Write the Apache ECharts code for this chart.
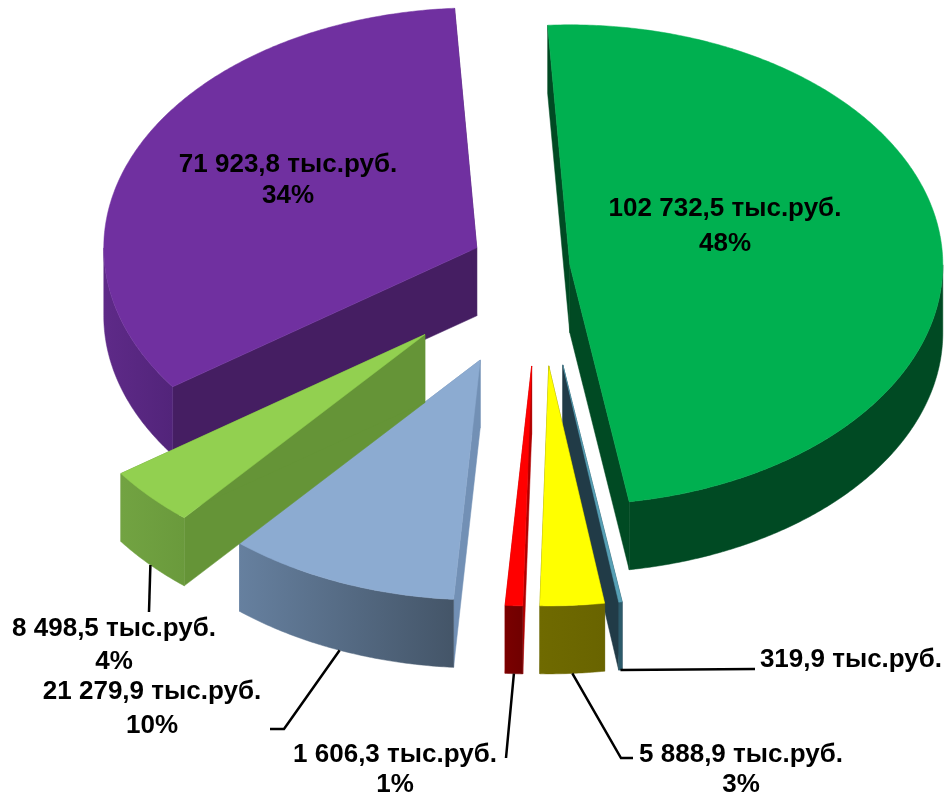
<!DOCTYPE html>
<html><head><meta charset="utf-8">
<style>html,body{margin:0;padding:0;background:#fff}#c{width:945px;height:796px}</style>
<script src="https://cdn.jsdelivr.net/npm/echarts@6/dist/echarts.min.js"></script>
</head><body><div id="c"></div>
<script>
// Data, in drawing order (back slices first)
const values = [71923.8, 102732.5, 319.9, 5888.9, 1606.3, 21279.9, 8498.5];
const valueLabels = ['71 923,8 тыс.руб.', '102 732,5 тыс.руб.', '319,9 тыс.руб.', '5 888,9 тыс.руб.', '1 606,3 тыс.руб.', '21 279,9 тыс.руб.', '8 498,5 тыс.руб.'];
const percentLabels = ['34%', '48%', '', '3%', '1%', '10%', '4%'];

// Styles and layout
const topColors = ['#7030a0', '#00b050', '#57a0b5', '#ffff00', '#ff0000', '#8cabd1', '#92d050'];
const cutColors = ['#451e62', '#004a23', '#213b47', '#5f5b00', '#b00000', '#7290b5', '#659437'];
const wallFrom = ['#5e2a88', '#004a23', '#2c5a6a', '#6f6a00', '#7a0000', '#66809f', '#72a342'];
const wallTo = ['#52247a', '#004a23', '#2c5a6a', '#696400', '#700000', '#445568', '#6a9a3c'];
const explode = [69, 31, 154, 154, 154, 156, 155];
const labelCenters = [[288, 180], [725, 226], [851, 660], [741, 770], [395, 770], [152, 709], [114, 645]];
const labelLineHeights = [31, 35, 33, 30, 30, 34, 33];
const leaderTails = [[], [], [[755, 669]], [[621, 758], [633, 758]], [[506, 758]], [[284, 729], [270, 729]], [[149, 612]]];

const baseX = 539, baseY = 267, rx = 373, ry = 240, depth = 68, firstAngle = -125.4;
const total = values.reduce((a, b) => a + b, 0);

let cum = firstAngle;
const slices = values.map((v, i) => {
  const a0 = cum, a1 = cum + v / total * 360; cum = a1;
  const mid = (a0 + a1) / 2, m = mid * Math.PI / 180;
  return { a0, a1, mid, ax: baseX + explode[i] * Math.sin(m), ay: baseY - explode[i] * ry / rx * Math.cos(m) };
});
const rim = (s, deg, dy) => {
  const t = deg * Math.PI / 180;
  return [s.ax + rx * Math.sin(t), s.ay - ry * Math.cos(t) + (dy || 0)];
};
const arc = (s, a, b, dy) => {
  const n = Math.max(2, Math.ceil(Math.abs(b - a) * 2)), pts = [];
  for (let k = 0; k <= n; k++) pts.push(rim(s, a + (b - a) * k / n, dy));
  return pts;
};
const poly = (points, fill) => ({ type: 'polygon', silent: true, shape: { points }, style: { fill, stroke: fill, lineWidth: 0.5 } });

function renderSlice(params) {
  const i = params.dataIndex, s = slices[i], children = [];
  const wall = (deg) => {
    const o = rim(s, deg);
    return poly([[s.ax, s.ay], o, [o[0], o[1] + depth], [s.ax, s.ay + depth]], cutColors[i]);
  };
  children.push(wall(s.a0), wall(s.a1));
  // Outer wall: only the front half of the rim (90..270 degrees) can be seen
  const ranges = [[90, 270], [450, 630], [-270, -90]];
  ranges.forEach(([lo, hi]) => {
    const a = Math.max(s.a0, lo), b = Math.min(s.a1, hi);
    if (b > a) {
      const fill = new echarts.graphic.LinearGradient(0, 0, 1, 0, [
        { offset: 0, color: wallFrom[i] }, { offset: 1, color: wallTo[i] }]);
      children.push(poly(arc(s, a, b).concat(arc(s, b, a, depth)), fill));
    }
  });
  children.push(poly([[s.ax, s.ay]].concat(arc(s, s.a0, s.a1)), topColors[i]));
  return { type: 'group', children };
}

function renderLabel(params) {
  const i = params.dataIndex, s = slices[i], children = [];
  if (leaderTails[i].length) {
    const start = rim(s, s.mid, depth);
    children.push({ type: 'polyline', silent: true, shape: { points: [start].concat(leaderTails[i]) },
      style: { stroke: '#000', lineWidth: 2.5, fill: null } });
  }
  const text = percentLabels[i] ? valueLabels[i] + '\n' + percentLabels[i] : valueLabels[i];
  children.push({ type: 'text', silent: true, x: labelCenters[i][0], y: labelCenters[i][1],
    style: { text, fill: '#000', font: 'bold 26px "Liberation Sans", Arial, sans-serif',
      align: 'center', verticalAlign: 'middle', lineHeight: labelLineHeights[i] } });
  return { type: 'group', children };
}

const chart = echarts.init(document.getElementById('c'), null, { renderer: 'canvas' });
chart.setOption({
  animation: false,
  backgroundColor: '#fff',
  series: [
    { type: 'custom', coordinateSystem: 'none', data: values, renderItem: renderSlice, z: 1, silent: true },
    { type: 'custom', coordinateSystem: 'none', data: values, renderItem: renderLabel, z: 2, silent: true }
  ]
});
</script></body></html>
